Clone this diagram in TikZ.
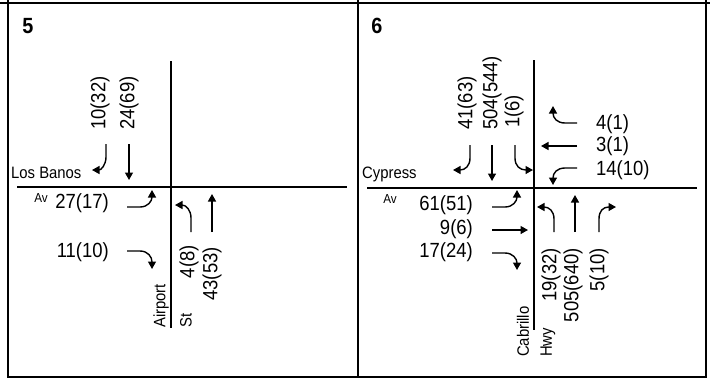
\documentclass[tikz,border=0pt]{standalone}
\usepackage{fontspec}
\setmainfont{Liberation Sans}
\newfontfamily\condfont[FakeStretch=0.9]{Liberation Sans}
\usetikzlibrary{arrows.meta}
\begin{document}
\begin{tikzpicture}[x=1pt,y=-1pt,
  frame/.style={line width=1.8pt},
  road/.style={line width=1.3pt},
  arr/.style={line width=1.4pt,-{Triangle[length=7.5pt,width=8pt]}},
  num/.style={inner sep=0pt,font=\condfont\fontsize{20.5}{22}\selectfont},
  vnum/.style={num,rotate=90},
  street/.style={inner sep=0pt,font=\condfont\fontsize{16.5}{18}\selectfont},
  vstreet/.style={street,rotate=90},
  small/.style={inner sep=0pt,font=\condfont\fontsize{13}{15}\selectfont},
  panelno/.style={inner sep=0pt,font=\condfont\fontsize{22}{24}\selectfont\bfseries}]
\useasboundingbox (0,0) rectangle (710,381);
% frame
\draw[frame] (0,3) -- (710,3);
\draw[frame] (8,0) -- (8,377) -- (706,377) -- (706,0);
\draw[frame] (358,0) -- (358,377);

% ================= Panel 5 =================
\node[panelno] (p5) at (28,26) {5};
\coordinate (v5t) at (171,61); \coordinate (v5b) at (171,328);
\coordinate (h5l) at (17,187); \coordinate (h5r) at (347,187);
\draw[road] (v5t) -- (v5b);
\draw[road] (h5l) -- (h5r);
\node[street,anchor=west] (lb) at (11,173) {Los Banos};
\node[small] (av5) at (41,198) {Av};
\node[vstreet,anchor=west] (ap) at (161,328) {Airport};
\node[vstreet,anchor=west] (st) at (186,328) {St};
\node[vnum,anchor=west] (s5r) at (100,130) {10(32)};
\node[vnum,anchor=west] (s5t) at (129,130) {24(69)};
\node[num,anchor=east] (e5l) at (109,203) {27(17)};
\node[num,anchor=east] (e5r) at (109,252) {11(10)};
\node[vnum,anchor=east] (n5l) at (189,245) {4(8)};
\node[vnum,anchor=east] (n5t) at (212,247) {43(53)};
% arrows
\draw[arr] (106,144) -- (106,157) .. controls (106,165) and (101,170) .. (92,170);
\draw[arr] (129,144) -- (129,180);
\draw[arr] (127,207) -- (140,207) .. controls (148,207) and (152,201) .. (152,190);
\draw[arr] (127,251) -- (140,251) .. controls (148,251) and (152,257) .. (152,269);
\draw[arr] (191,232) -- (191,218) .. controls (191,210) and (186,205) .. (175,205);
\draw[arr] (212,232) -- (212,194);

% ================= Panel 6 =================
\node[panelno] (p6) at (377,26) {6};
\coordinate (v6t) at (534,60); \coordinate (v6b) at (534,330);
\coordinate (h6l) at (367,188); \coordinate (h6r) at (697,188);
\draw[road] (v6t) -- (v6b);
\draw[road] (h6l) -- (h6r);
\node[street,anchor=west] (cy) at (362,174) {Cypress};
\node[small] (av6) at (390,199) {Av};
\node[vstreet,anchor=west] (cb) at (523,357) {Cabrillo};
\node[vstreet,anchor=west] (hw) at (548,357) {Hwy};
\node[vnum,anchor=west] (s6r) at (467,130) {41(63)};
\node[vnum,anchor=west] (s6t) at (492,130) {504(544)};
\node[vnum,anchor=west] (s6l) at (514,128) {1(6)};
\node[num,anchor=west] (w6r) at (596,124) {4(1)};
\node[num,anchor=west] (w6t) at (596,146) {3(1)};
\node[num,anchor=west] (w6l) at (596,170) {14(10)};
\node[num,anchor=east] (e6l) at (473,205) {61(51)};
\node[num,anchor=east] (e6t) at (473,229) {9(6)};
\node[num,anchor=east] (e6r) at (473,252) {17(24)};
\node[vnum,anchor=east] (n6l) at (551,248) {19(32)};
\node[vnum,anchor=east] (n6t) at (573,248) {505(640)};
\node[vnum,anchor=east] (n6r) at (599,248) {5(10)};
% arrows
\draw[arr] (470,145) -- (470,158) .. controls (470,166) and (465,170) .. (453,170);
\draw[arr] (492,145) -- (492,181);
\draw[arr] (515,145) -- (515,158) .. controls (515,166) and (520,170) .. (533,170);
\draw[arr] (577,123) -- (565,123) .. controls (557,123) and (553,118) .. (553,106);
\draw[arr] (577,146) -- (541,146);
\draw[arr] (577,168) -- (565,168) .. controls (557,168) and (553,173) .. (553,185);
\draw[arr] (492,207) -- (505,207) .. controls (513,207) and (517,201) .. (517,190);
\draw[arr] (492,230) -- (528,230);
\draw[arr] (492,253) -- (505,253) .. controls (513,253) and (517,259) .. (517,270);
\draw[arr] (554,232) -- (554,219) .. controls (554,211) and (549,207) .. (537,207);
\draw[arr] (575,232) -- (575,195);
\draw[arr] (599,232) -- (599,219) .. controls (599,211) and (603,207) .. (616,207);
\end{tikzpicture}
\end{document}
